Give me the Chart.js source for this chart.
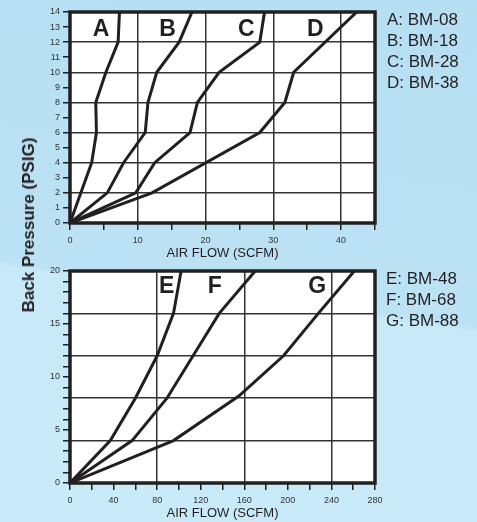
<!DOCTYPE html>
<html>
<head>
<meta charset="utf-8">
<script src="https://cdn.jsdelivr.net/npm/chart.js@4.4.1/dist/chart.umd.min.js"></script>
<style>
  html, body { margin: 0; padding: 0; }
  body {
    width: 477px; height: 522px; position: relative; overflow: hidden;
    font-family: "Liberation Sans", Arial, sans-serif;
    background: linear-gradient(188deg, #b6dff3 0%, #bce2f4 55.5%, #c7e9f8 56.5%, #c9eaf8 100%);
  }
  canvas { position: absolute; left: 0; }
  .legend { position: absolute; font-size: 17px; line-height: 21px; color: #231f20; }
  #ytitle {
    position: absolute; left: 29px; top: 225px; white-space: nowrap;
    font-weight: bold; font-size: 17px; color: #231f20;
    transform: translate(-50%, -50%) rotate(-90deg);
  }
</style>
</head>
<body>
<canvas id="top" width="477" height="262" style="top:0"></canvas>
<canvas id="bottom" width="477" height="260" style="top:262px"></canvas>
<div id="ytitle">Back Pressure (PSIG)</div>
<div class="legend" id="legTop" style="left:387px;top:9px"></div>
<div class="legend" id="legBottom" style="left:386px;top:268px"></div>
<script>
// top chart: small models (SCFM 0-45, PSIG 0-14)
var topNames = ['A', 'B', 'C', 'D'];
var topModels = ['BM-08', 'BM-18', 'BM-28', 'BM-38'];
var flowA = [0, 3.2, 3.9, 3.8, 5.3, 7.1, 7.3];
var psiA  = [0, 4, 6, 8, 10, 12, 14];
var flowB = [0, 5.5, 7.9, 11.1, 11.5, 12.8, 16.1, 18];
var psiB  = [0, 2, 4, 6, 8, 10, 12, 14];
var flowC = [0, 9.7, 12.5, 17.7, 18.8, 22, 28, 28.7];
var psiC  = [0, 2, 4, 6, 8, 10, 12, 14];
var flowD = [0, 12.1, 28, 31.7, 33, 42.3];
var psiD  = [0, 2, 6, 8, 10, 14];

// bottom chart: large models (SCFM 0-280, PSIG 0-20)
var bottomNames = ['E', 'F', 'G'];
var bottomModels = ['BM-48', 'BM-68', 'BM-88'];
var flowE = [0, 37, 60, 80, 95, 102];
var psiE  = [0, 4, 8, 12, 16, 20];
var flowF = [0, 57, 89, 113, 137, 170];
var psiF  = [0, 4, 8, 12, 16, 20];
var flowG = [0, 95, 155, 196, 228, 261];
var psiG  = [0, 4, 8.2, 12, 16, 20];

var ink = '#231f20';
var font = '"Liberation Sans", Arial, sans-serif';

function pts(xs, ys) {
  var out = [];
  for (var i = 0; i < xs.length; i++) out.push({ x: xs[i], y: ys[i] });
  return out;
}

function curve(xs, ys) {
  return {
    data: pts(xs, ys),
    borderColor: ink,
    borderWidth: 3,
    pointRadius: 0,
    tension: 0,
    fill: false
  };
}

// letters A..G drawn inside the plot, placed in data units
var framePlugin = {
  id: 'frame',
  beforeDraw: function(chart) {
    var a = chart.chartArea, c = chart.ctx;
    c.save();
    c.fillStyle = '#ffffff';
    c.fillRect(a.left, a.top, a.right - a.left, a.bottom - a.top);
    c.restore();
  },
  afterDraw: function(chart) {
    var a = chart.chartArea, c = chart.ctx;
    var o = chart.options.plugins.frame;
    c.save();
    c.strokeStyle = ink;
    c.lineWidth = 3.5;
    c.strokeRect(a.left, a.top, a.right - a.left, a.bottom - a.top);
    c.fillStyle = ink;
    c.font = 'bold 23px ' + font;
    c.textAlign = 'center';
    c.textBaseline = 'middle';
    for (var i = 0; i < o.letters.length; i++) {
      c.fillText(o.letters[i],
        chart.scales.x.getPixelForValue(o.letterX[i]),
        chart.scales.y.getPixelForValue(o.letterY));
    }
    c.restore();
  }
};

function makeChart(id, sets, xMax, xStep, xLabelEvery, xGridEvery, yMax, yLabelEvery, yGridEvery, padTop, letters, letterX, letterY) {
  new Chart(document.getElementById(id), {
    type: 'line',
    data: { datasets: sets },
    plugins: [framePlugin],
    options: {
      responsive: false,
      animation: false,
      layout: { padding: { top: padTop, right: 102, left: 0, bottom: 0 } },
      plugins: {
        legend: { display: false },
        tooltip: { enabled: false },
        frame: { letters: letters, letterX: letterX, letterY: letterY }
      },
      scales: {
        x: {
          type: 'linear', min: 0, max: xMax,
          afterFit: function(s) { s.height = 39; },
          border: { display: false },
          grid: {
            lineWidth: 1.5, tickLength: 7, tickWidth: 1.5, tickColor: ink,
            color: function(ctx) {
              var v = ctx.tick ? ctx.tick.value : 0;
              return (v > 0 && v < xMax && v % xGridEvery === 0) ? '#333333' : 'rgba(0,0,0,0)';
            }
          },
          ticks: {
            stepSize: xStep, autoSkip: false, maxRotation: 0, padding: 5,
            color: '#333333', font: { family: font, size: 9 },
            callback: function(v) { return v % xLabelEvery === 0 ? v : ''; }
          },
          title: {
            display: true, text: 'AIR FLOW (SCFM)', color: ink,
            font: { family: font, size: 13 }, padding: { top: 0, bottom: 1 }
          }
        },
        y: {
          type: 'linear', min: 0, max: yMax,
          afterFit: function(s) { s.width = 70; },
          border: { display: false },
          grid: {
            lineWidth: 1.5, tickLength: 7, tickWidth: 1.5, tickColor: ink,
            color: function(ctx) {
              var v = ctx.tick ? ctx.tick.value : 0;
              return (v > 0 && v < yMax && v % yGridEvery === 0) ? '#333333' : 'rgba(0,0,0,0)';
            }
          },
          ticks: {
            stepSize: 1, autoSkip: false, padding: 3,
            color: '#333333', font: { family: font, size: 9 },
            callback: function(v) { return v % yLabelEvery === 0 ? v : ''; }
          }
        }
      }
    }
  });
}

makeChart('top',
  [curve(flowA, psiA), curve(flowB, psiB), curve(flowC, psiC), curve(flowD, psiD)],
  45, 5, 10, 10, 14, 1, 2, 12,
  topNames, [4.6, 14.4, 26, 36.2], 12.8);

makeChart('bottom',
  [curve(flowE, psiE), curve(flowF, psiF), curve(flowG, psiG)],
  280, 20, 40, 80, 20, 5, 4, 9,
  bottomNames, [88.8, 133, 227], 18.5);

function legendHtml(names, models) {
  var h = '';
  for (var i = 0; i < names.length; i++) h += '<div>' + names[i] + ': ' + models[i] + '</div>';
  return h;
}
document.getElementById('legTop').innerHTML = legendHtml(topNames, topModels);
document.getElementById('legBottom').innerHTML = legendHtml(bottomNames, bottomModels);
</script>
</body>
</html>
